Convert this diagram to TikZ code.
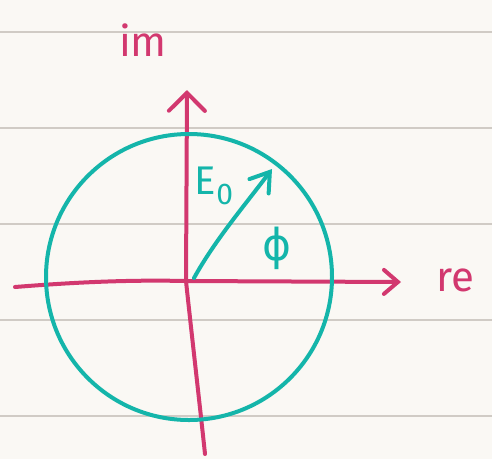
\documentclass[tikz,border=0pt]{standalone}
\usepackage{fontspec}
\setmainfont{Fira Sans}
\newfontfamily\greekpen{DejaVu Sans}
\usetikzlibrary{arrows.meta}
\definecolor{Paper}{HTML}{FAF8F4}
\definecolor{Rule}{HTML}{D0CBC5}
\definecolor{Axis}{HTML}{D2386F}
\definecolor{Phasor}{HTML}{14B5AA}
\tikzset{ruling/.style={draw=Rule,line width=1.6pt},
  pen/.style={line width=4pt,line cap=round,line join=round},
  axisline/.style={pen,draw=Axis},
  phasorline/.style={pen,draw=Phasor},
  axislabel/.style={text=Axis,font=\fontsize{42}{42}\selectfont,inner sep=0pt},
  phasorlabel/.style={text=Phasor,font=\fontsize{40}{40}\selectfont,inner sep=0pt}}

\begin{document}
\begin{tikzpicture}[x=1pt,y=-1pt]
        \fill[Paper] (0,0) rectangle (492,459);
        \useasboundingbox (0,0) rectangle (492,459);
        \foreach \y in {32,128,224,320,416}
          \draw[ruling] (0,\y) -- (492,\y);
        % axes
        \coordinate (o) at (186,281);
        \coordinate (xl) at (15,287);
        \coordinate (xr) at (401,282);
        \coordinate (yb) at (205,454);
        \coordinate (yt) at (187,90);
        \draw[axisline] (yb) .. controls (202,425) and (189,310) .. (o);
        \draw[axisline,-{Straight Barb[length=18pt,width=36pt,line cap=round]}] (o) -- (yt);
        \draw[axisline] (xl) .. controls (90,281) and (140,280) .. (o);
        \draw[axisline,-{Straight Barb[length=14pt,width=24pt,line cap=round]}] (o) -- (xr);
        \node[axislabel] (im) at (143,40) {im};
        \node[axislabel] (re) at (455,280) {re};
        % circle and phasor
        \coordinate (c) at (189,277);
        \draw[phasorline] (c) circle[radius=143];
        \coordinate (p0) at (194,278);
        \coordinate (p1) at (272,169);
        \draw[phasorline,-{Straight Barb[length=18pt,width=24pt,line cap=round]}]
          (p0) .. controls (215,240) and (245,205) .. (p1);
        \node[phasorlabel] (amp) at (214,186) {E\raisebox{-0.25em}{\fontsize{30}{30}\selectfont 0}};
        \node[phasorlabel] (phase) at (277,248) {\greekpen\fontsize{44}{44}\selectfont ϕ};
      \end{tikzpicture}
\end{document}
